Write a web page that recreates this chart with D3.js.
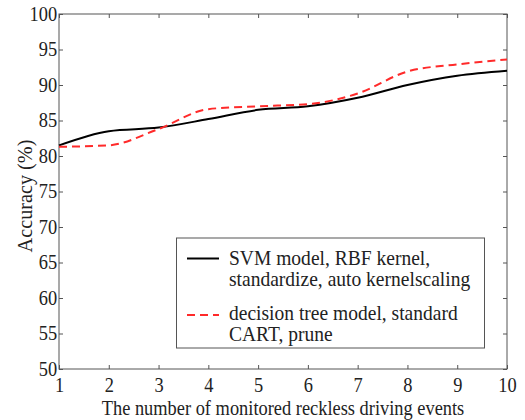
<!DOCTYPE html>
<html>
<head>
<meta charset="utf-8">
<script src="https://cdn.jsdelivr.net/npm/d3@7"></script>
<style>
  body { margin: 0; background: #fff; }
  text { font-family: "Liberation Serif", "Times New Roman", serif; fill: #222; }
</style>
</head>
<body>
<div id="chart"></div>
<script>
//// data
var events = [1, 2, 3, 4, 5, 6, 7, 8, 9, 10];
var svmAcc = [81.5, 83.5, 84.0, 85.2, 86.5, 87.0, 88.2, 90.0, 91.3, 92.0];
var treeAcc = [81.3, 81.5, 83.8, 86.6, 87.0, 87.3, 88.8, 91.9, 92.9, 93.6];
var xTicks = [1, 2, 3, 4, 5, 6, 7, 8, 9, 10];
var yTicks = [50, 55, 60, 65, 70, 75, 80, 85, 90, 95, 100];
var legendLabels = [
  ["SVM model, RBF kernel,", "standardize, auto kernelscaling"],
  ["decision tree model, standard", "CART, prune"]
];

//// chart
var width = 525, height = 420;
var margin = {top: 14, right: 18, bottom: 51, left: 59};
var squeeze = 0.92; // text in the picture is a bit narrow

var svg = d3.select("#chart")
  .append("svg")
    .attr("width", width)
    .attr("height", height);

var xScale = d3.scaleLinear()
  .domain([1, 10])
  .range([margin.left, width - margin.right]);

var yScale = d3.scaleLinear()
  .domain([50, 100])
  .range([height - margin.bottom, margin.top]);

var axisColor = "#555";

// frame
svg.append("rect")
  .attr("x", xScale(1))
  .attr("y", yScale(100))
  .attr("width", xScale(10) - xScale(1))
  .attr("height", yScale(50) - yScale(100))
  .attr("fill", "none")
  .attr("stroke", axisColor)
  .attr("stroke-width", 1);

// axes, ticks pointing inward
function styleAxis(g) {
  g.select(".domain").remove();
  g.selectAll(".tick line").attr("stroke", axisColor);
  g.selectAll(".tick text")
    .style("font-size", "20px")
    .style("font-family", "Liberation Serif, serif")
    .attr("fill", "#222")
    .attr("transform", "scale(" + squeeze + ",1)");
}

svg.append("g")
  .attr("transform", "translate(0," + yScale(50) + ")")
  .call(d3.axisBottom(xScale).tickValues(xTicks).tickFormat(d3.format("d"))
    .tickSizeInner(-4).tickPadding(8.5))
  .call(styleAxis);

svg.append("g")
  .attr("transform", "translate(0," + yScale(100) + ")")
  .call(d3.axisTop(xScale).tickValues(xTicks).tickFormat("").tickSizeInner(-4))
  .call(styleAxis);

svg.append("g")
  .attr("transform", "translate(" + xScale(1) + ",0)")
  .call(d3.axisLeft(yScale).tickValues(yTicks).tickFormat(d3.format("d"))
    .tickSizeInner(-4).tickPadding(2))
  .call(styleAxis);

svg.append("g")
  .attr("transform", "translate(" + xScale(10) + ",0)")
  .call(d3.axisRight(yScale).tickValues(yTicks).tickFormat("").tickSizeInner(-4))
  .call(styleAxis);

// axis titles
svg.append("text")
  .attr("transform", "translate(" + (xScale(1) + xScale(10)) / 2 + ",414.5) scale(" + squeeze + ",1)")
  .attr("text-anchor", "middle")
  .style("font-size", "20px")
  .text("The number of monitored reckless driving events");

svg.append("text")
  .attr("transform", "translate(32,196) rotate(-90) scale(" + squeeze + ",1)")
  .attr("text-anchor", "middle")
  .style("font-size", "22px")
  .text("Accuracy (%)");

//// lines
var line = d3.line()
  .x(function(d, i) { return xScale(events[i]); })
  .y(function(d) { return yScale(d); })
  .curve(d3.curveMonotoneX);

svg.append("path")
  .datum(svmAcc)
  .attr("fill", "none")
  .attr("stroke", "#000")
  .attr("stroke-width", 2)
  .attr("d", line);

svg.append("path")
  .datum(treeAcc)
  .attr("fill", "none")
  .attr("stroke", "#ff2a2a")
  .attr("stroke-width", 2)
  .attr("stroke-dasharray", "8,5")
  .attr("d", line);

//// legend
var legend = svg.append("g");
legend.append("rect")
  .attr("x", 176.5)
  .attr("y", 238)
  .attr("width", 308)
  .attr("height", 110)
  .attr("fill", "#fff")
  .attr("stroke", axisColor);

var legendStyles = [
  {color: "#000", dash: null, y: 258.5, base: 264.5},
  {color: "#ff2a2a", dash: "8,5", y: 315, base: 319.5}
];

legendStyles.forEach(function(s, i) {
  legend.append("line")
    .attr("x1", 187).attr("x2", 219)
    .attr("y1", s.y).attr("y2", s.y)
    .attr("stroke", s.color)
    .attr("stroke-width", 2)
    .attr("stroke-dasharray", s.dash);
  legendLabels[i].forEach(function(t, j) {
    legend.append("text")
      .attr("transform", "translate(229," + (s.base + j * 21.5) + ") scale(0.93,1)")
      .style("font-size", "21px")
      .text(t);
  });
});
</script>
</body>
</html>
